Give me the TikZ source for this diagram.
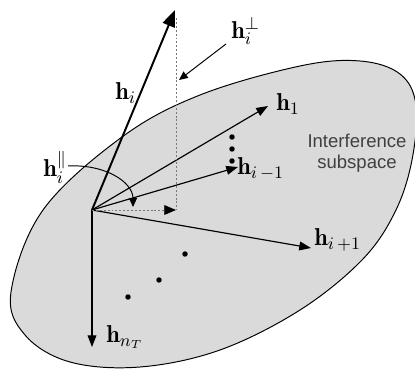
\documentclass[tikz,border=0pt]{standalone}
\usepackage{fontspec}
\setsansfont{Liberation Sans}
\usetikzlibrary{arrows.meta, positioning}
\definecolor{subspacebg}{RGB}{218, 218, 218}
\definecolor{projgray}{RGB}{120, 120, 120}

\begin{document}
\begin{tikzpicture}[
    x=0.018cm, y=-0.018cm,
    subspaceShape/.style={draw=black, line width=0.5pt, fill=subspacebg},
    vecArrow/.style={draw=black, line width=0.6pt, -{Triangle[length=6pt, width=4.5pt]}},
    mainArrow/.style={draw=black, line width=1pt, -{Triangle[length=8.5pt, width=6.5pt]}},
    projLine/.style={draw=projgray, line width=0.45pt, dash pattern=on 1pt off 1pt},
    pointerArrow/.style={draw=black, line width=0.5pt, -{Triangle[length=4.5pt, width=4pt]}},
    vecLabel/.style={inner sep=0pt, anchor=west, font=\fontsize{12.5}{15}\selectfont},
    dotMark/.style={circle, fill=black, inner sep=0pt, minimum size=2.8pt}
]
\useasboundingbox (0,0) rectangle (415,371);

% Interference subspace
\draw[subspaceShape] plot[smooth cycle, tension=0.6] coordinates {
    (11,292) (43,210) (122,137) (200,95) (300,66) (360,61) (400,74)
    (416,105) (412,160) (395,212) (362,260) (300,310) (220,350)
    (140,367) (70,362) (25,335)};
\node[font=\sffamily\fontsize{9.5}{11}\selectfont, align=center, text=black!75] (subLabel) at (357,153) {Interference\\subspace};

% Vectors from the origin
\coordinate (O) at (92,210);
\coordinate (tipHi) at (175,10);
\coordinate (tipH1) at (268,106);
\coordinate (tipHim) at (238,167);
\coordinate (tipHip) at (311,248);
\coordinate (tipHnT) at (92,347);

\draw[mainArrow] (O) -- (tipHi);
\draw[vecArrow] (O) -- (tipH1);
\draw[vecArrow] (O) -- (tipHim);
\draw[vecArrow] (O) -- (tipHip);
\draw[vecArrow] (O) -- (tipHnT);

% Projections
\coordinate (projTop) at (176,18);
\coordinate (projFoot) at (176,210);
\draw[projLine] (projTop) -- (projFoot);
\draw[projLine, -{Triangle[length=6pt, width=5pt, color=black]}] (O) -- (projFoot);

% Labels
\node[vecLabel] (lblHi) at (115,93) {$\mathbf{h}_{i}$};
\node[vecLabel] (lblH1) at (276,104) {$\mathbf{h}_{1}$};
\node[vecLabel] (lblHim) at (237,169) {$\mathbf{h}_{i\,-1}$};
\node[vecLabel] (lblHip) at (314,240) {$\mathbf{h}_{i\,+1}$};
\node[vecLabel] (lblHnT) at (106,337) {$\mathbf{h}_{n_T}$};
\node[vecLabel] (lblHperp) at (231,31) {$\mathbf{h}_{i}^{\perp}$};
\node[vecLabel] (lblHpar) at (43,167) {$\mathbf{h}_{i}^{\|}$};

% Pointers to the components
\coordinate (perpFrom) at (226,44);
\coordinate (perpTo) at (179,80);
\draw[pointerArrow] (perpFrom) -- (perpTo);
\coordinate (parFrom) at (68,166);
\coordinate (parTip) at (133,207);
\draw[pointerArrow] (parFrom) .. controls (105,164) and (133,182) .. (parTip);

% Omitted vectors
\node[dotMark] (dA1) at (232,137) {};
\node[dotMark] (dA2) at (232,149) {};
\node[dotMark] (dA3) at (232,161) {};
\node[dotMark] (dB1) at (185,254) {};
\node[dotMark] (dB2) at (159,280) {};
\node[dotMark] (dB3) at (128,297) {};

\end{tikzpicture}
\end{document}
